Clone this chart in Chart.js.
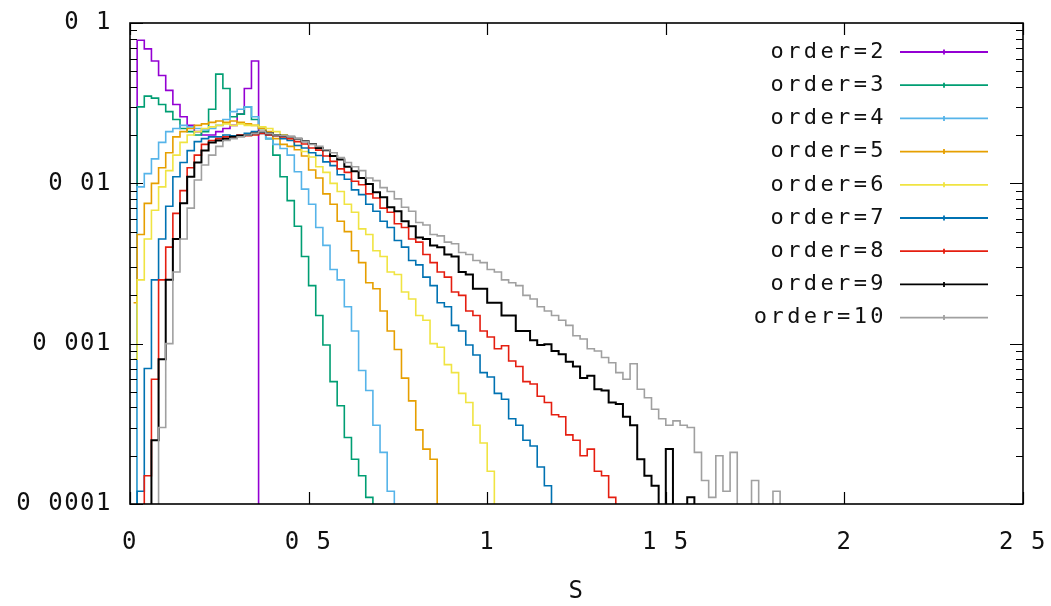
<!DOCTYPE html>
<html>
<head>
<meta charset="utf-8">
<script src="https://cdn.jsdelivr.net/npm/chart.js@4.4.1/dist/chart.umd.min.js"></script>
<style>
  html, body { margin: 0; padding: 0; background: #fff; }
  #wrap { width: 1051px; height: 606px; position: relative; }
</style>
</head>
<body>
<div id="wrap"><canvas id="spacingChart"></canvas></div>
<script>
// histogram bin centres (bin width 0.02)
const binCenters = [
  0.01, 0.03, 0.05, 0.07, 0.09, 0.11, 0.13, 0.15, 0.17, 0.19,
  0.21, 0.23, 0.25, 0.27, 0.29, 0.31, 0.33, 0.35, 0.37, 0.39,
  0.41, 0.43, 0.45, 0.47, 0.49, 0.51, 0.53, 0.55, 0.57, 0.59,
  0.61, 0.63, 0.65, 0.67, 0.69, 0.71, 0.73, 0.75, 0.77, 0.79,
  0.81, 0.83, 0.85, 0.87, 0.89, 0.91, 0.93, 0.95, 0.97, 0.99,
  1.01, 1.03, 1.05, 1.07, 1.09, 1.11, 1.13, 1.15, 1.17, 1.19,
  1.21, 1.23, 1.25, 1.27, 1.29, 1.31, 1.33, 1.35, 1.37, 1.39,
  1.41, 1.43, 1.45, 1.47, 1.49, 1.51, 1.53, 1.55, 1.57, 1.59,
  1.61, 1.63, 1.65, 1.67, 1.69, 1.71, 1.73, 1.75, 1.77, 1.79,
  1.81, 1.83
];

const order2 = [0, 0.078, 0.069, 0.058, 0.047, 0.038, 0.031, 0.026, 0.023, 0.021,
  0.020, 0.020, 0.021, 0.022, 0.023, 0.027, 0.039, 0.058, 0];

const order3 = [0, 0.030, 0.035, 0.034, 0.031, 0.028, 0.025, 0.022, 0.021, 0.020,
  0.021, 0.029, 0.048, 0.039, 0.026, 0.027, 0.030, 0.025, 0.022, 0.019,
  0.015, 0.011, 0.0078, 0.0054, 0.0035, 0.0023, 0.0015, 0.00098, 0.00058, 0.00041,
  0.00026, 0.00019, 0.00015, 0.00011, 0];

const order4 = [0, 0.0095, 0.0115, 0.0142, 0.018, 0.021, 0.022, 0.023, 0.0225, 0.022,
  0.0215, 0.022, 0.023, 0.025, 0.028, 0.029, 0.030, 0.026, 0.022, 0.019,
  0.0175, 0.0165, 0.015, 0.0118, 0.0092, 0.0074, 0.0053, 0.0041, 0.0029, 0.0025,
  0.0017, 0.0012, 0.00068, 0.00051, 0.00031, 0.00021, 0.00012, 0];

const order5 = [0.0018, 0.0048, 0.0075, 0.010, 0.0125, 0.0155, 0.0195, 0.021, 0.022, 0.023,
  0.0235, 0.024, 0.0245, 0.024, 0.0245, 0.024, 0.0235, 0.023, 0.022, 0.021,
  0.019, 0.0175, 0.017, 0.0162, 0.0148, 0.0121, 0.0108, 0.0086, 0.0074, 0.0058,
  0.0050, 0.0038, 0.0032, 0.0024, 0.0022, 0.0016, 0.0012, 0.00092, 0.00061, 0.00044,
  0.00029, 0.00022, 0.00019, 0];

const order6 = [0.0008, 0.0025, 0.0045, 0.0068, 0.0095, 0.012, 0.015, 0.018, 0.020, 0.021,
  0.022, 0.0225, 0.023, 0.0235, 0.023, 0.0235, 0.023, 0.023, 0.0225, 0.022,
  0.021, 0.020, 0.019, 0.0172, 0.0158, 0.0146, 0.0127, 0.0117, 0.0100, 0.0089,
  0.0074, 0.0066, 0.0052, 0.0048, 0.0038, 0.0035, 0.0028, 0.0027, 0.0021, 0.0019,
  0.0015, 0.0014, 0.0010, 0.00095, 0.00074, 0.00066, 0.00049, 0.00043, 0.00031, 0.00024,
  0.00016, 0];

const order7 = [0, 0.00012, 0.0007, 0.0025, 0.0045, 0.0072, 0.011, 0.0135, 0.016, 0.0182,
  0.019, 0.0195, 0.0195, 0.020, 0.0198, 0.020, 0.0205, 0.021, 0.0205, 0.020,
  0.0198, 0.019, 0.0185, 0.0172, 0.0166, 0.0155, 0.0149, 0.0136, 0.0129, 0.0113,
  0.0106, 0.0091, 0.0085, 0.0074, 0.0067, 0.0058, 0.0053, 0.0044, 0.0040, 0.0033,
  0.0031, 0.0026, 0.0023, 0.0018, 0.0017, 0.0013, 0.0012, 0.00098, 0.00085, 0.00066,
  0.00062, 0.00049, 0.00045, 0.00034, 0.00031, 0.00025, 0.00023, 0.00017, 0.00013, 0];

const order8 = [0, 0, 0.00015, 0.0006, 0.0025, 0.004, 0.0065, 0.009, 0.0125, 0.015,
  0.0175, 0.0185, 0.019, 0.0195, 0.0195, 0.020, 0.0198, 0.020, 0.0205, 0.020,
  0.0198, 0.0195, 0.019, 0.0182, 0.0176, 0.0166, 0.0161, 0.0148, 0.0137, 0.0123,
  0.0117, 0.0103, 0.0098, 0.0086, 0.0081, 0.0070, 0.0066, 0.0056, 0.0053, 0.0045,
  0.0043, 0.0036, 0.0032, 0.0028, 0.0026, 0.0021, 0.0020, 0.0016, 0.0015, 0.0012,
  0.0011, 0.00093, 0.00097, 0.00078, 0.00072, 0.00058, 0.00056, 0.00047, 0.00043, 0.00036,
  0.00035, 0.00027, 0.00025, 0.00020, 0.00022, 0.00016, 0.00015, 0.00011, 0];

const order9 = [0, 0, 0, 0.00025, 0.0008, 0.0025, 0.0045, 0.0075, 0.011, 0.0135,
  0.016, 0.018, 0.0185, 0.019, 0.0195, 0.0198, 0.020, 0.0205, 0.021, 0.0205,
  0.020, 0.0198, 0.0195, 0.019, 0.0183, 0.0176, 0.0166, 0.0161, 0.0148, 0.0141,
  0.0127, 0.0119, 0.0108, 0.0099, 0.0088, 0.0082, 0.0071, 0.0067, 0.0058, 0.0054,
  0.0046, 0.0045, 0.0041, 0.0040, 0.0036, 0.0035, 0.0028, 0.0027, 0.0022, 0.0022,
  0.0018, 0.0018, 0.0015, 0.0015, 0.0012, 0.0012, 0.00105, 0.00098, 0.00099, 0.00090,
  0.00086, 0.00077, 0.00072, 0.00061, 0.00063, 0.00052, 0.00051, 0.00043, 0.00042, 0.00035,
  0.00031, 0.00019, 0.00015, 0.00013, 0, 0.00022, 0, 0, 0.00011, 0];

const order10 = [0, 0, 0, 0, 0.0003, 0.001, 0.0028, 0.0045, 0.007, 0.0105,
  0.013, 0.015, 0.017, 0.0185, 0.019, 0.0195, 0.020, 0.0205, 0.021, 0.0205,
  0.020, 0.0198, 0.0195, 0.019, 0.0182, 0.0175, 0.017, 0.0162, 0.0155, 0.0145,
  0.0135, 0.0127, 0.012, 0.0108, 0.0104, 0.0094, 0.0089, 0.0080, 0.0071, 0.0067,
  0.0057, 0.0055, 0.0048, 0.0047, 0.0043, 0.0042, 0.0037, 0.0036, 0.0033, 0.0032,
  0.0029, 0.0028, 0.0025, 0.0024, 0.0023, 0.0020, 0.0019, 0.0017, 0.0016, 0.0015,
  0.0014, 0.0013, 0.00112, 0.00107, 0.00093, 0.0009, 0.00082, 0.00076, 0.00066, 0.00060,
  0.00075, 0.00052, 0.00046, 0.00039, 0.00034, 0.00031, 0.00033, 0.00031, 0.00030, 0.00021,
  0.00014, 0.00011, 0.00020, 0.00012, 0.00021, 0, 0, 0.00014, 0, 0,
  0.00012, 0];

const seriesNames = ['order=2', 'order=3', 'order=4', 'order=5', 'order=6',
  'order=7', 'order=8', 'order=9', 'order=10'];
const seriesValues = [order2, order3, order4, order5, order6, order7, order8, order9, order10];
const seriesColors = ['#9400d3', '#009e73', '#56b4e9', '#e69f00', '#f0e442',
  '#0072b2', '#e51e10', '#000000', '#a0a0a0'];

const xTickValues = [0, 0.5, 1, 1.5, 2, 2.5];
const xTickLabels = ['0', '0 5', '1', '1 5', '2', '2 5'];
const yTickValues = [0.0001, 0.001, 0.01, 0.1];
const yTickLabels = ['0 0001', '0 001', '0 01', '0 1'];

// empty bins have no log value: send them below the axis so the step drops off the plot
const belowAxis = 1e-6;

const tickFont = { family: 'DejaVu Sans Mono', size: 24 };

// gnuplot style border, inward ticks and key
const gnuplotFrame = {
  id: 'gnuplotFrame',
  beforeDraw(chart) {
    chart.ctx.letterSpacing = '1.5px';
  },
  afterDatasetsDraw(chart) {
    const { ctx, chartArea: a, scales: { x, y } } = chart;
    ctx.save();
    ctx.strokeStyle = '#000';
    ctx.lineWidth = 1.2;
    ctx.beginPath();
    xTickValues.forEach(v => {
      const px = Math.round(x.getPixelForValue(v)) + 0.5;
      ctx.moveTo(px, a.bottom); ctx.lineTo(px, a.bottom - 12);
      ctx.moveTo(px, a.top); ctx.lineTo(px, a.top + 12);
    });
    for (let e = -4; e <= -1; e++) {
      for (let m = 1; m <= 9; m++) {
        const v = m * Math.pow(10, e);
        if (v > 0.1 + 1e-12) break;
        const py = Math.round(y.getPixelForValue(v)) + 0.5;
        const len = m === 1 ? 13 : 7;
        ctx.moveTo(a.left, py); ctx.lineTo(a.left + len, py);
        ctx.moveTo(a.right, py); ctx.lineTo(a.right - len, py);
      }
    }
    ctx.stroke();

    ctx.lineWidth = 1.6;
    ctx.strokeRect(a.left, a.top, a.right - a.left, a.bottom - a.top);

    // key
    ctx.font = '22px "DejaVu Sans Mono"';
    ctx.letterSpacing = '3.4px';
    ctx.textAlign = 'right';
    ctx.textBaseline = 'middle';
    ctx.fillStyle = '#111';
    seriesNames.forEach((name, i) => {
      const rowY = 52 + i * 33.2;
      ctx.fillText(name, 887, rowY);
      ctx.strokeStyle = seriesColors[i];
      ctx.lineWidth = 1.8;
      ctx.beginPath();
      ctx.moveTo(900, rowY); ctx.lineTo(988, rowY);
      ctx.moveTo(944, rowY - 2.5); ctx.lineTo(944, rowY + 2.5);
      ctx.stroke();
    });
    ctx.restore();
  }
};

const datasets = seriesValues.map((vals, i) => ({
  label: seriesNames[i],
  data: vals.map((v, k) => ({ x: binCenters[k], y: v > 0 ? v : belowAxis })),
  borderColor: seriesColors[i],
  backgroundColor: seriesColors[i],
  borderWidth: i === 7 ? 2 : 1.6,
  pointRadius: 0,
  stepped: 'middle',
  fill: false,
  order: 20 - i
}));

new Chart(document.getElementById('spacingChart'), {
  type: 'line',
  data: { datasets },
  options: {
    responsive: true,
    maintainAspectRatio: false,
    animation: false,
    layout: { padding: { top: 23, right: 28, left: 0, bottom: 0 } },
    plugins: { legend: { display: false }, tooltip: { enabled: false } },
    scales: {
      x: {
        type: 'linear',
        min: 0,
        max: 2.5,
        grid: { display: false },
        border: { display: false },
        afterBuildTicks(scale) { scale.ticks = xTickValues.map(v => ({ value: v })); },
        afterFit(scale) {
          scale.height = 102;
          scale.paddingLeft = 0;
          scale.paddingRight = 0;
        },
        ticks: {
          font: tickFont,
          color: '#111',
          padding: 16,
          maxRotation: 0,
          autoSkip: false,
          callback: (value, index) => xTickLabels[index]
        },
        title: { display: true, text: 'S', font: tickFont, color: '#111', padding: { top: 4, bottom: 0 } }
      },
      y: {
        type: 'logarithmic',
        min: 0.0001,
        max: 0.1,
        grid: { display: false },
        border: { display: false },
        afterBuildTicks(scale) { scale.ticks = yTickValues.map(v => ({ value: v })); },
        afterFit(scale) {
          scale.width = 130;
          scale.paddingTop = 0;
          scale.paddingBottom = 0;
        },
        ticks: {
          font: tickFont,
          color: '#111',
          padding: 10,
          autoSkip: false,
          callback: (value, index) => yTickLabels[index]
        }
      }
    }
  },
  plugins: [gnuplotFrame]
});
</script>
</body>
</html>
